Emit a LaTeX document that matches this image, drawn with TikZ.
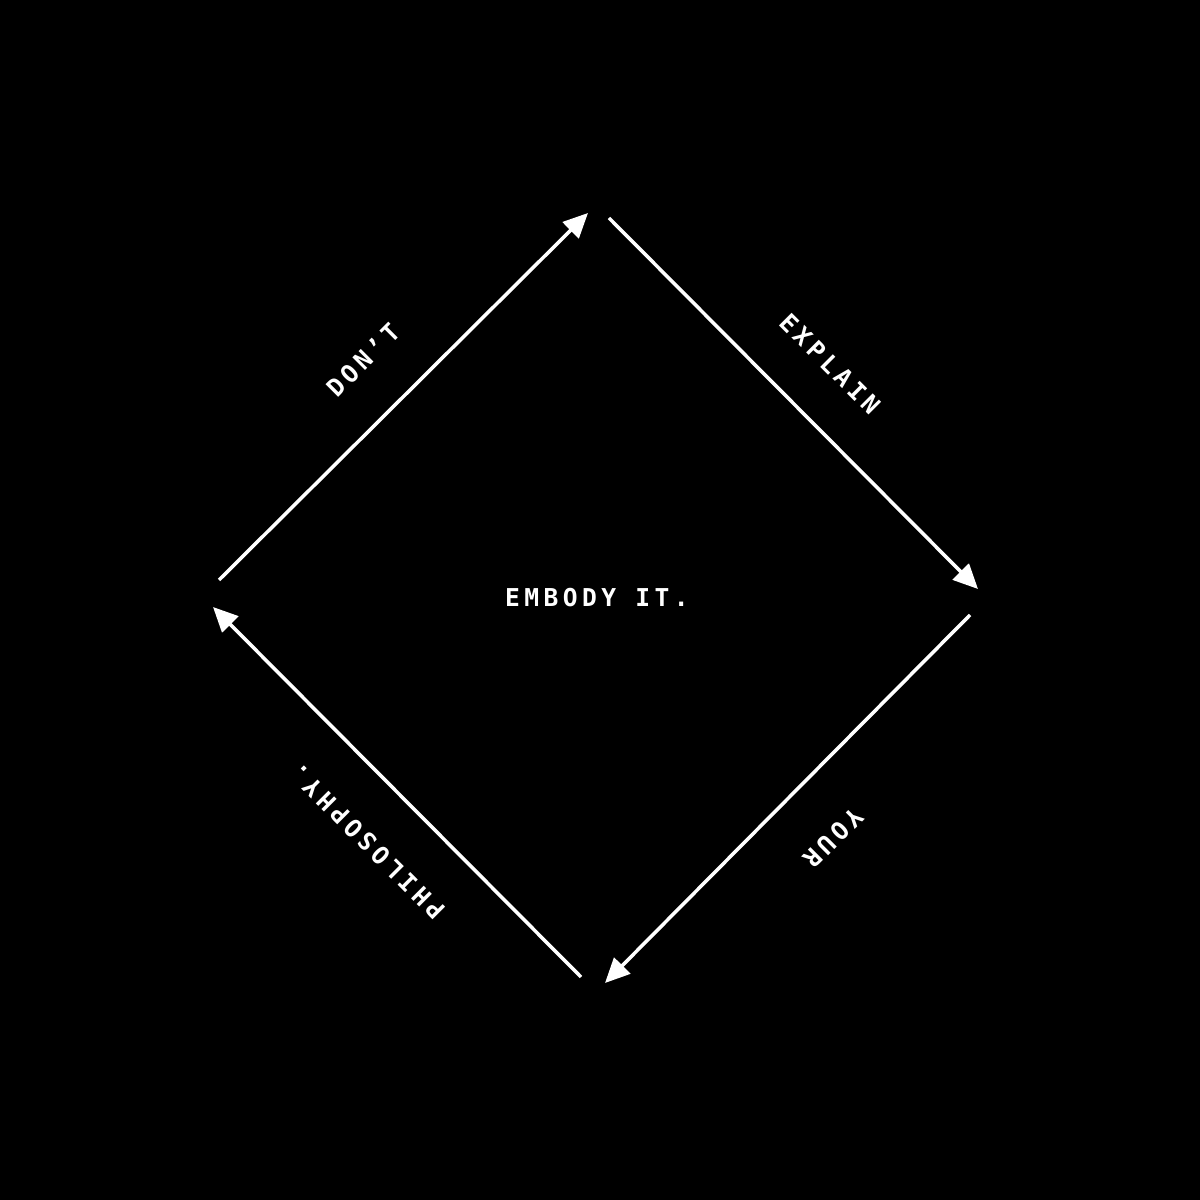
\documentclass[tikz,border=0pt]{standalone}
\usepackage{fontspec}
\newfontfamily\labelfont[LetterSpace=18]{DejaVu Sans Mono}
\usetikzlibrary{arrows.meta}

\begin{document}
\begin{tikzpicture}[
        flow/.style={draw=white, line width=1pt, -{Triangle[length=7pt, width=6.4pt]}},
        word/.style={text=white, font=\labelfont\bfseries\fontsize{7}{8}\selectfont, inner sep=0pt}
    ]
        \fill[black] (0,0) rectangle (12,12);
        \coordinate (d1) at (2.19,6.20);
        \coordinate (d2) at (5.88,9.87);
        \coordinate (e1) at (6.09,9.82);
        \coordinate (e2) at (9.78,6.11);
        \coordinate (y1) at (9.70,5.85);
        \coordinate (y2) at (6.05,2.17);
        \coordinate (p1) at (5.81,2.23);
        \coordinate (p2) at (2.13,5.93);
        \node[word] (embody) at (5.97,6.02) {EMBODY IT.};
        \node[word, rotate=45] (dont) at (3.63,8.40) {DON’T};
        \node[word, rotate=-45] (explain) at (8.30,8.36) {EXPLAIN};
        \node[word, rotate=225] (your) at (8.33,3.62) {YOUR};
        \node[word, rotate=135] (philosophy) at (3.67,3.58) {PHILOSOPHY.};
        \draw[flow] (d1) -- (d2);
        \draw[flow] (e1) -- (e2);
        \draw[flow] (y1) -- (y2);
        \draw[flow] (p1) -- (p2);
    \end{tikzpicture}
\end{document}
